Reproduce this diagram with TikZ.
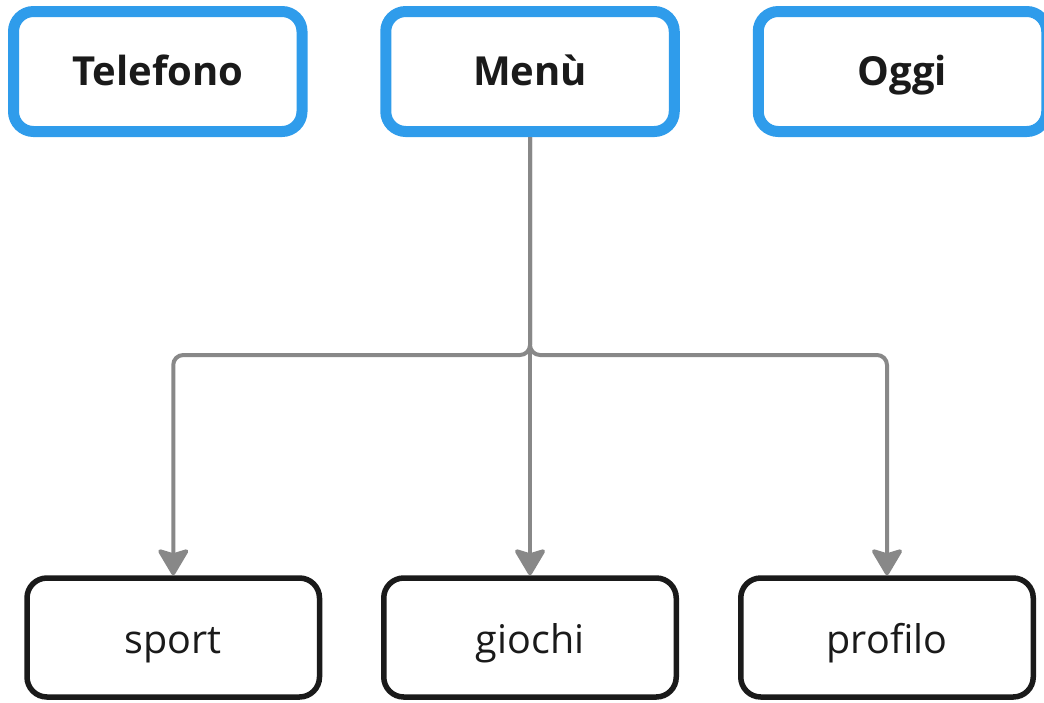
\documentclass[tikz,border=0pt]{standalone}
\usepackage{fontspec}
\setmainfont{Open Sans}
\usetikzlibrary{arrows.meta}
\definecolor{boxblue}{HTML}{2F9CEB}
\definecolor{conngray}{HTML}{888888}
\definecolor{txt}{HTML}{1A1A1A}
\tikzset{
  topbox/.style={draw=boxblue, line width=11pt, rounded corners=20pt, fill=white,
    minimum width=288.5pt, minimum height=120pt, inner sep=0pt, text=txt,
    text height=27pt, text depth=0pt,
    font=\fontsize{40}{44}\selectfont\bfseries},
  botbox/.style={draw=txt, line width=5.5pt, rounded corners=20pt, fill=white,
    minimum width=292.5pt, minimum height=119pt, inner sep=0pt, text=txt,
    text height=31pt, text depth=0pt,
    font=\fontsize{39.5}{46}\selectfont},
  conn/.style={draw=conngray, line width=4pt, rounded corners=10pt,
    -{Stealth[length=29pt, width=34pt, inset=5pt, round]}},
}
\begin{document}
\begin{tikzpicture}[x=1pt, y=-1pt]
\useasboundingbox (0,0) rectangle (1044,702);
\node[topbox] (tel) at (157.75,71.5) {Telefono};
\node[topbox] (menu) at (530,71.5) {Menù};
\node[topbox] (oggi) at (902.5,71.5) {Oggi};
\node[botbox] (sport) at (173.25,637.5) {sport};
\node[botbox] (giochi) at (530,637.5) {giochi};
\node[botbox] (profilo) at (887,637.5) {profilo};
\coordinate (j) at (530,355);
\draw[conn] (menu.south) -- (j) -| (sport.north);
\draw[conn] (menu.south) -- (giochi.north);
\draw[conn] (menu.south) -- (j) -| (profilo.north);
\end{tikzpicture}
\end{document}
